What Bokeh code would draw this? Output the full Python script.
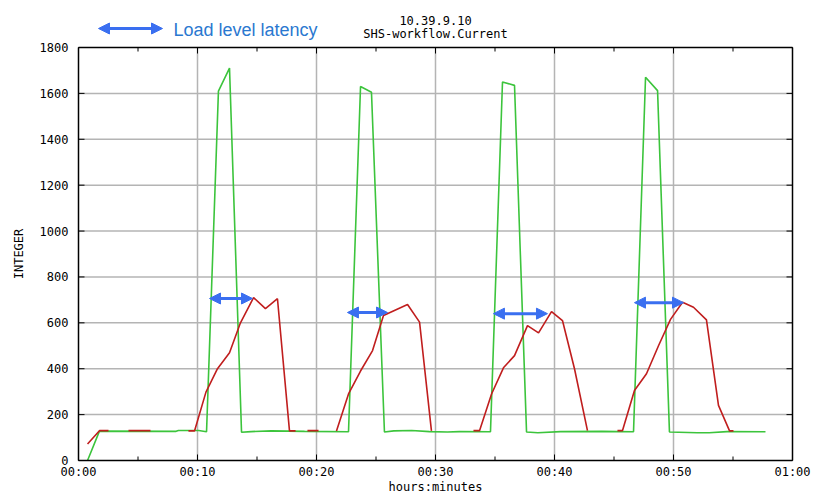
import math
import numpy as np
from bokeh.plotting import figure
from bokeh.core.properties import value
from bokeh.models import (Range1d, Label, Arrow, NormalHead, ColumnDataSource)
from bokeh.embed import file_html
from bokeh.resources import INLINE

nan = float("nan")

# ---- data (minutes, value) ----
load_t = [0.76, 1.76, 8.2, 8.4, 10.1, 10.76, 11.76, 12.69, 13.70, 14.5, 16.2, 19.0,
          22.69, 23.70, 24.62, 25.71, 26.5, 28.0, 29.5, 31.0, 32.0, 34.62, 35.63,
          36.64, 37.65, 38.6, 40.5, 44.0, 46.64, 47.65, 48.66, 49.66, 52.0, 53.0,
          54.5, 57.73]
load_v = [0, 128, 127, 131, 131, 125, 1610, 1710, 123, 126, 129, 127,
          125, 1630, 1605, 124, 129, 131, 126, 124, 126, 125, 1650,
          1635, 124, 121, 126, 127, 125, 1670, 1612, 124, 121, 121,
          126, 125]

lat_t = [0.76, 1.76, 2.52, nan,
         4.2, 6.05, nan,
         9.24, 9.75, 10.71, 11.68, 12.69, 13.61, 14.71, 15.71, 16.72, 17.73, 18.24, nan,
         19.24, 20.17, nan,
         21.68, 22.69, 23.70, 24.71, 25.63, 26.64, 27.65, 28.66, 29.66, nan,
         33.19, 33.70, 34.71, 35.71, 36.64, 37.73, 38.66, 39.75, 40.67, 41.68, 42.77, nan,
         45.29, 45.71, 46.72, 47.73, 48.74, 49.75, 50.76, 51.68, 52.77, 53.78, 54.71, 55.04]
lat_v = [72, 130, 130, nan,
         130, 130, nan,
         129, 129, 298, 400, 470, 600, 710, 662, 705, 129, 129, nan,
         130, 130, nan,
         129, 290, 390, 479, 632, 656, 680, 603, 129, nan,
         130, 130, 290, 404, 457, 588, 556, 649, 610, 400, 130, nan,
         130, 130, 305, 378, 500, 615, 690, 668, 613, 240, 129, 129]

# latency intervals marked by arrows (start min, end min, level)
lat_start = [11.01, 22.60, 34.87, 46.72]
lat_end = [14.62, 25.97, 39.41, 50.84]
lat_level = [706, 645, 640, 688]

x_ticks = [0, 10, 20, 30, 40, 50, 60]
x_minor = [5, 15, 25, 35, 45, 55]
x_tick_labels = ["00:00", "00:10", "00:20", "00:30", "00:40", "00:50", "01:00"]
y_ticks = [0, 200, 400, 600, 800, 1000, 1200, 1400, 1600, 1800]
y_tick_labels = ["0", "200", "400", "600", "800", "1000", "1200", "1400", "1600", "1800"]

title_lines = ["10.39.9.10", "SHS-workflow.Current"]
legend_text = "Load level latency"
x_label = "hours:minutes"
y_label = "INTEGER"

GREEN = "#3cc43c"
RED = "#c01e1e"
BLUE = "#3a6ff0"
GRID = "#b4b4b4"
MONO = "DejaVu Sans Mono"

# ---- geometry (page pixels of the 0..60 x 0..1800 box) ----
W, H = 816, 492
LEFT, RIGHT, TOP_AXIS, BOTTOM = 78, 792, 47, 460
XMAX = x_ticks[-1]
YMAX = y_ticks[-1]
px_per_min = (RIGHT - LEFT) / XMAX
px_per_unit = (BOTTOM - TOP_AXIS) / YMAX


def yv(page_y):
    return (BOTTOM - page_y) / px_per_unit


def xv(page_x):
    return (page_x - LEFT) / px_per_min


# the frame covers the whole page; axes are drawn as glyphs
p = figure(width=W, height=H, x_range=Range1d(xv(0), xv(W)), y_range=Range1d(yv(H), yv(0)),
           output_backend="svg", toolbar_location=None,
           min_border_left=0, min_border_right=0, min_border_top=0, min_border_bottom=0,
           x_axis_location=None, y_axis_location=None)
p.background_fill_color = "white"
p.border_fill_color = "white"
p.outline_line_color = None
p.grid.visible = False

n, m, k = len(x_ticks), len(x_minor), len(y_ticks)

# grid lines limited to the data box
xi = x_ticks[1:-1]
p.segment(x0=xi, y0=[0] * len(xi), x1=xi, y1=[YMAX] * len(xi),
          line_color=GRID, line_width=1.5)
yi = y_ticks[1:-1]
p.segment(x0=[0] * len(yi), y0=yi, x1=[XMAX] * len(yi), y1=yi,
          line_color=GRID, line_width=1.5)

p.line(np.array(load_t), np.array(load_v), line_color=GREEN, line_width=1.6)
p.line(np.array(lat_t), np.array(lat_v), line_color=RED, line_width=1.6)

# box borders with inward ticks
p.segment(x0=[0, 0, XMAX, 0], y0=[0, YMAX, 0, 0], x1=[XMAX, XMAX, XMAX, 0],
          y1=[0, YMAX, YMAX, YMAX], line_color="black", line_width=1.5)
maj_len_x = 6 / px_per_min
maj_len_y = 6 / px_per_unit
min_len_y = 4 / px_per_unit
p.segment(x0=x_ticks, y0=[YMAX] * n, x1=x_ticks, y1=[YMAX - maj_len_y] * n,
          line_color="black", line_width=1)
p.segment(x0=x_minor, y0=[YMAX] * m, x1=x_minor, y1=[YMAX - min_len_y] * m,
          line_color="black", line_width=1)
p.segment(x0=x_ticks, y0=[0] * n, x1=x_ticks, y1=[maj_len_y] * n,
          line_color="black", line_width=1)
p.segment(x0=x_minor, y0=[0] * m, x1=x_minor, y1=[min_len_y] * m,
          line_color="black", line_width=1)
p.segment(x0=[XMAX] * k, y0=y_ticks, x1=[XMAX - maj_len_x] * k, y1=y_ticks,
          line_color="black", line_width=1)
p.segment(x0=[0] * k, y0=y_ticks, x1=[maj_len_x] * k, y1=y_ticks,
          line_color="black", line_width=1)

# tick labels
p.text(x=x_ticks, y=[yv(471)] * n, text=x_tick_labels, text_font=value(MONO),
       text_font_size="12px", text_color="black", text_align="center",
       text_baseline="middle")
p.text(x=[xv(68)] * k, y=y_ticks, text=y_tick_labels, text_font=value(MONO),
       text_font_size="12px", text_color="black", text_align="right",
       text_baseline="middle")

# axis titles
p.add_layout(Label(x=XMAX / 2, y=yv(486), text=x_label, text_font=MONO,
                   text_font_size="12px", text_color="black",
                   text_align="center", text_baseline="middle"))
p.add_layout(Label(x=xv(18), y=YMAX / 2, text=y_label, text_font=MONO, angle=math.pi / 2,
                   text_font_size="12px", text_color="black",
                   text_align="center", text_baseline="middle"))

# latency arrows
src = ColumnDataSource(dict(x0=lat_start, x1=lat_end, y=lat_level))
p.add_layout(Arrow(start=NormalHead(size=11, fill_color=BLUE, line_color=BLUE),
                   end=NormalHead(size=11, fill_color=BLUE, line_color=BLUE),
                   x_start="x0", y_start="y", x_end="x1", y_end="y",
                   line_color=BLUE, line_width=3, source=src))

# legend arrow + text
p.add_layout(Arrow(start=NormalHead(size=11, fill_color=BLUE, line_color=BLUE),
                   end=NormalHead(size=11, fill_color=BLUE, line_color=BLUE),
                   x_start=xv(98), y_start=yv(28), x_end=xv(162), y_end=yv(28),
                   line_color=BLUE, line_width=3))
p.add_layout(Label(x=xv(173), y=yv(29.5), text=legend_text, text_font="Liberation Sans",
                   text_font_size="18px", text_color="#2a78d0",
                   text_baseline="middle", text_align="left"))

# title
p.add_layout(Label(x=XMAX / 2, y=yv(20), text=title_lines[0], text_font=MONO,
                   text_font_size="12px", text_color="black",
                   text_align="center", text_baseline="middle"))
p.add_layout(Label(x=XMAX / 2, y=yv(33), text=title_lines[1], text_font=MONO,
                   text_font_size="12px", text_color="black",
                   text_align="center", text_baseline="middle"))

open("out.html", "w").write(file_html(p, INLINE))
